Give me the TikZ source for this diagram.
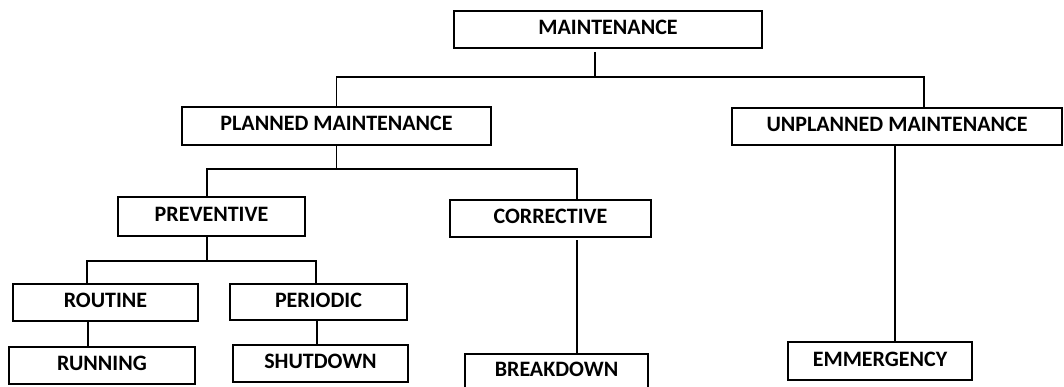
\documentclass[tikz,border=0pt]{standalone}
\usepackage{fontspec}
\setmainfont{Carlito}
\begin{document}
\begin{tikzpicture}[x=1pt,y=-1pt,
  box/.style={draw=black, line width=1.6pt, inner sep=0pt, outer sep=0pt,
    font=\fontsize{22}{26}\selectfont\bfseries, text height=14pt, text depth=4pt},
  conn/.style={draw=black, line width=1.6pt}]
\useasboundingbox (0,0) rectangle (1064,387);
% boxes
\node[box, minimum width=308pt, minimum height=37pt] (m)  at (608,29.5)  {MAINTENANCE};
\node[box, minimum width=309pt, minimum height=38pt] (pm) at (336.5,126) {PLANNED MAINTENANCE};
\node[box, minimum width=330pt, minimum height=37pt] (um) at (897,126.5) {UNPLANNED MAINTENANCE};
\node[box, minimum width=187pt, minimum height=39pt] (pv) at (211.5,216.5) {PREVENTIVE};
\node[box, minimum width=201pt, minimum height=37pt] (co) at (550.5,218.5) {CORRECTIVE};
\node[box, minimum width=185pt, minimum height=37pt] (ro) at (105.5,302.5) {ROUTINE};
\node[box, minimum width=177pt, minimum height=36pt] (pe) at (318.5,302)   {PERIODIC};
\node[box, minimum width=186pt, minimum height=37pt] (ru) at (102,365.5)   {RUNNING};
\node[box, minimum width=175pt, minimum height=37pt] (sh) at (320.5,363.5) {SHUTDOWN};
\node[box, minimum width=183pt, minimum height=40pt, text depth=9pt] (bd) at (556.5,374) {BREAKDOWN};
\node[box, minimum width=184pt, minimum height=38pt] (em) at (880,361)     {EMMERGENCY};
% junction coordinates
\coordinate (a1) at (595,77);
\coordinate (a2) at (924,77);
\coordinate (b2) at (207,169);
\coordinate (b3) at (577,169);
\coordinate (c1) at (207,261);
\coordinate (c2) at (87,261);
\coordinate (c3) at (316,261);
\coordinate (d1) at (88,0);
\coordinate (d2) at (317,0);
\coordinate (d3) at (577,0);
\coordinate (d4) at (895,0);
% connectors
\draw[conn] ([yshift=-4pt]m.south -| a1) -- (a1);
\draw[conn] (pm.north) |- (a2) -- (a2 |- um.north);
\draw[conn] (pm.south) -- (pm.south |- b2);
\draw[conn] (b2 |- pv.north) -- (b2) -- (b3) -- (b3 |- co.north);
\draw[conn] (c1 |- pv.south) -- (c1);
\draw[conn] (c2 |- ro.north) -- (c2) -- (c3) -- (c3 |- pe.north);
\draw[conn] (d1 |- ro.south) -- (d1 |- ru.north);
\draw[conn] (d2 |- pe.south) -- (d2 |- sh.north);
\draw[conn] ([yshift=-3pt]d3 |- co.south) -- (d3 |- bd.north);
\draw[conn] (d4 |- um.south) -- (d4 |- em.north);
\end{tikzpicture}
\end{document}
